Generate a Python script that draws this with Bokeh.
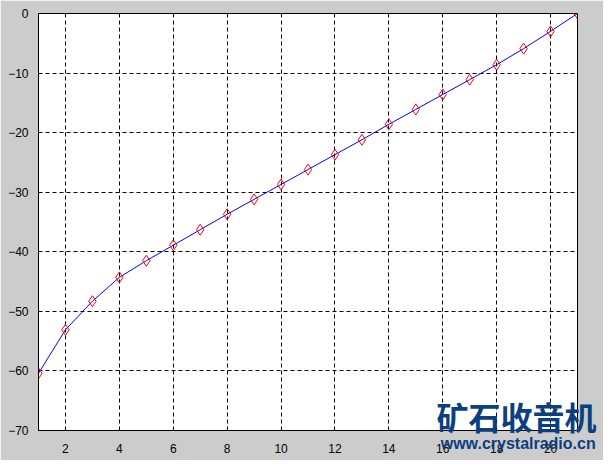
from bokeh.plotting import figure
from bokeh.models import Range1d, FixedTicker, LinearAxis
from bokeh.embed import file_html
from bokeh.resources import INLINE

x_vals = list(range(1, 22))
y_vals = [-60.4, -53.1, -48.3, -44.3, -41.5, -38.9, -36.3, -33.7, -31.2, -28.7,
          -26.2, -23.7, -21.2, -18.6, -16.1, -13.6, -11.1, -8.6, -5.9, -3.0, 0.0]
x_ticks = [2, 4, 6, 8, 10, 12, 14, 16, 18, 20]
y_ticks = [-70, -60, -50, -40, -30, -20, -10, 0]
wm_title = "矿石收音机"
wm_url = "www.crystalradio.cn"

p = figure(width=603, height=460, output_backend="svg", toolbar_location=None,
           x_range=Range1d(1, 21), y_range=Range1d(-70, 0))
p.min_border_left = 38
p.min_border_top = 13
p.min_border_right = 26
p.min_border_bottom = 30
p.border_fill_color = "#cccccc"
p.background_fill_color = "white"
p.outline_line_color = "black"
p.outline_line_width = 1

for ax in (p.xaxis[0], p.yaxis[0]):
    ax.major_tick_line_color = None
    ax.minor_tick_line_color = None
    ax.axis_line_color = "black"
    ax.major_label_text_font = "Liberation Sans"
    ax.major_label_text_font_size = "12px"
    ax.major_label_text_color = "black"
p.xaxis.ticker = FixedTicker(ticks=x_ticks)
p.yaxis.ticker = FixedTicker(ticks=y_ticks)
p.xaxis.major_label_standoff = 7
p.yaxis.major_label_standoff = 4

p.xgrid.ticker = FixedTicker(ticks=x_ticks)
p.ygrid.ticker = FixedTicker(ticks=y_ticks)
for g in (p.xgrid[0], p.ygrid[0]):
    g.grid_line_color = "black"
    g.grid_line_dash = "4 3"
    g.grid_line_width = 1
    g.grid_line_alpha = 1.0

p.line(x_vals, y_vals, line_color="blue", line_width=1)
p.scatter(x_vals, y_vals, marker="diamond", size=11, fill_color=None,
          line_color="red", line_width=1)

# watermark drawn as labels of extra side axes (side panels are not clipped)
wm_color = "#0b3f80"
wm_title_y = -67.5
wm_url_x = 18.8

ax_t = LinearAxis(ticker=FixedTicker(ticks=[wm_title_y]),
                  major_label_overrides={wm_title_y: wm_title})
ax_u = LinearAxis(ticker=FixedTicker(ticks=[wm_url_x]),
                  major_label_overrides={wm_url_x: wm_url})
for ax, font, size in ((ax_t, "Noto Sans CJK SC", "32px"), (ax_u, "Liberation Sans", "16px")):
    ax.axis_line_color = None
    ax.major_tick_line_color = None
    ax.minor_tick_line_color = None
    ax.major_label_text_font = font
    ax.major_label_text_font_style = "bold"
    ax.major_label_text_font_size = size
    ax.major_label_text_color = wm_color
ax_t.major_label_standoff = -147
ax_u.major_label_standoff = -27
p.add_layout(ax_t, "right")
p.add_layout(ax_u, "below")

open("out.html", "w").write(file_html(p, INLINE))
